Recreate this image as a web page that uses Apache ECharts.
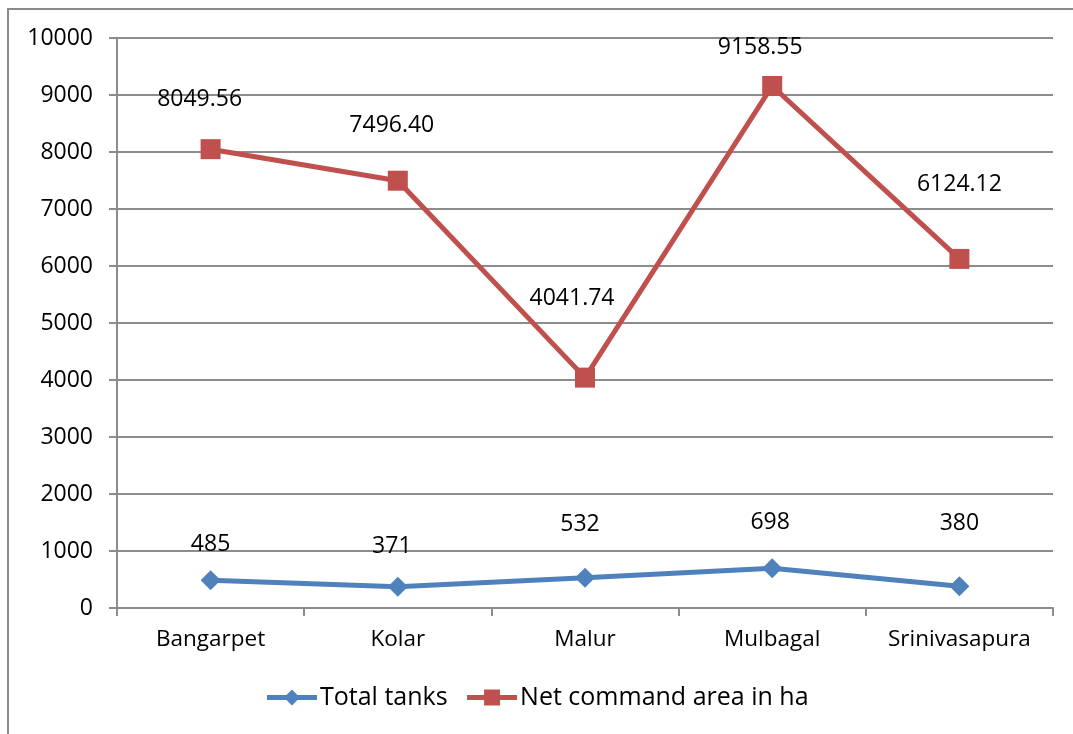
<!DOCTYPE html>
<html>
<head>
<meta charset="utf-8">
<script src="https://cdn.jsdelivr.net/npm/echarts@6/dist/echarts.min.js"></script>
<style>
    html, body { margin: 0; padding: 0; background: #fff; }
    #container { width: 1073px; height: 734px; }
</style>
</head>
<body>
<div id="container"></div>
<script>
// categories and values
const blocks = ['Bangarpet', 'Kolar', 'Malur', 'Mulbagal', 'Srinivasapura']
const totalTanks = [485, 371, 532, 698, 380]
const netCommandArea = [8049.56, 7496.40, 4041.74, 9158.55, 6124.12]
const yTicks = [0, 1000, 2000, 3000, 4000, 5000, 6000, 7000, 8000, 9000, 10000]

// label offsets (Excel placed them by hand)
const tankLabelOffset = [[0, -36], [-6, -40], [-5, -53], [-2, -46], [0, -63]]
const areaLabelOffset = [[-11, -50], [-6, -55], [-13, -79], [-12, -39], [0, -74]]

const font = 'Open Sans'
const blue = '#4F81BD'
const red = '#C0504D'
const gridGray = '#8c8c8c'

const makeData = (vals, offsets, digits) => vals.map((v, i) => ({
    value: v,
    label: {
        offset: offsets[i],
        formatter: () => v.toFixed(digits),
    },
}))

let option = {
    animation: false,
    backgroundColor: '#fff',
    textStyle: { fontFamily: font },
    graphic: [
        {
            // outer chart frame
            type: 'rect',
            shape: { x: 8, y: 9, width: 1200, height: 900 },
            style: { fill: 'none', stroke: '#8a8a8a', lineWidth: 2 },
            silent: true,
        },
    ],
    legend: {
        bottom: 19,
        left: 'center',
        itemWidth: 50,
        itemHeight: 20,
        itemGap: 17,
        lineStyle: { width: 5 },
        textStyle: { fontFamily: font, fontSize: 25, color: '#000', padding: [0, 0, 0, -2] },
        data: ['Total tanks', 'Net command area in ha'],
    },
    grid: {
        left: 117,
        right: 20,
        top: 38,
        bottom: 126,
    },
    xAxis: {
        type: 'category',
        data: blocks,
        boundaryGap: true,
        axisLine: { lineStyle: { color: gridGray, width: 2 } },
        axisTick: { show: true, length: 8, lineStyle: { color: gridGray, width: 2 } },
        axisLabel: { color: '#000', fontFamily: font, fontSize: 22.5, margin: 20 },
        splitLine: { show: false },
    },
    yAxis: {
        type: 'value',
        min: yTicks[0],
        max: yTicks[yTicks.length - 1],
        interval: 1000,
        axisLine: { show: true, lineStyle: { color: gridGray, width: 2 } },
        axisTick: { show: true, length: 8, lineStyle: { color: gridGray, width: 2 } },
        axisLabel: { color: '#000', fontFamily: font, fontSize: 23, margin: 24, formatter: (v) => String(v) },
        splitLine: { show: true, lineStyle: { color: gridGray, width: 2 } },
    },
    series: [
        {
            name: 'Total tanks',
            type: 'line',
            data: makeData(totalTanks, tankLabelOffset, 0),
            symbol: 'diamond',
            symbolSize: 20,
            itemStyle: { color: blue },
            lineStyle: { color: blue, width: 5 },
            label: { show: true, position: 'inside', color: '#000', fontFamily: font, fontSize: 23 },
        },
        {
            name: 'Net command area in ha',
            type: 'line',
            data: makeData(netCommandArea, areaLabelOffset, 2),
            symbol: 'rect',
            symbolSize: 20,
            itemStyle: { color: red },
            lineStyle: { color: red, width: 5 },
            label: { show: true, position: 'inside', color: '#000', fontFamily: font, fontSize: 23 },
        },
    ],
}

let chartDom = document.getElementById('container')
let myChart = echarts.init(chartDom, null, { renderer: 'canvas' })
option && myChart.setOption(option)
window.addEventListener('resize', myChart.resize)
</script>
</body>
</html>
